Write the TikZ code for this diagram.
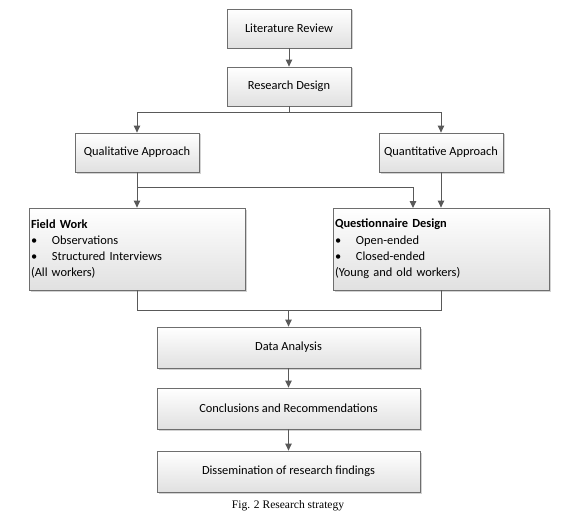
\documentclass[tikz,border=0pt]{standalone}
\usepackage{fontspec}
\setmainfont{Carlito}
\newfontfamily\capfont{Liberation Serif}
\usetikzlibrary{arrows.meta,shadows}
\definecolor{boxline}{HTML}{6E6E6E}
\definecolor{linkgray}{HTML}{595959}
\newcommand{\bul}{\makebox[21pt][l]{\textbullet}}

\begin{document}
\begin{tikzpicture}
  [x=1pt,y=-1pt,
   every node/.style={font=\fontsize{12.4}{16.3}\selectfont},
   box/.style={rectangle,draw=boxline,line width=0.8pt,top color=white,bottom color=black!12,
     drop shadow={shadow xshift=1.5pt,shadow yshift=-1.5pt,fill=black!35},
     minimum width=124pt,minimum height=39pt,inner sep=2pt},
   wide/.style={box,minimum width=263pt,minimum height=41pt},
   list/.style={box,text width=212pt,align=left,minimum height=82pt},
   link/.style={draw=linkgray,line width=1pt},
   arr/.style={link,-{Triangle[length=7pt,width=6.5pt]}}]
  \useasboundingbox (0,0) rectangle (563,519);

  \node[box] (lit) at (289,28.5) {Literature Review};
  \node[box] (design) at (289,86.5) {Research Design};
  \node[box] (qual) at (137,152.5) {Qualitative Approach};
  \node[box] (quant) at (441,152.5) {Quantitative Approach};
  \node[list] (field) at (137,249) {\textbf{Field Work}\\\bul Observations\\\bul Structured Interviews\\(All workers)};
  \node[list] (quest) at (441,249) {\textbf{Questionnaire Design}\\\bul Open-ended\\\bul Closed-ended\\(Young and old workers)};
  \node[wide] (data) at (288.5,347.5) {Data Analysis};
  \node[wide] (concl) at (288.5,408.5) {Conclusions and Recommendations};
  \node[wide] (diss) at (288.5,471.5) {Dissemination of research findings};
  \node[font=\capfont\fontsize{11.5}{14}\selectfont] (cap) at (288,506) {Fig. 2 Research strategy};
  \coordinate (qin) at (413,208);

  \foreach \from/\to in {lit/design,qual/field,quant/quest,data/concl,concl/diss}
    \draw[arr] (\from) -- (\to);

  \draw[arr] (design.south) -- ++(0,6) -| (qual);
  \draw[arr] (design.south) ++(0,6) -| (quant);
  \draw[arr] (qual.south) ++(0,15) -| (qin);
  \draw[link] (field.south) -- ++(0,20) coordinate (join) -| (quest.south);
  \draw[arr] (join -| data.north) -- (data);

\end{tikzpicture}
\end{document}
